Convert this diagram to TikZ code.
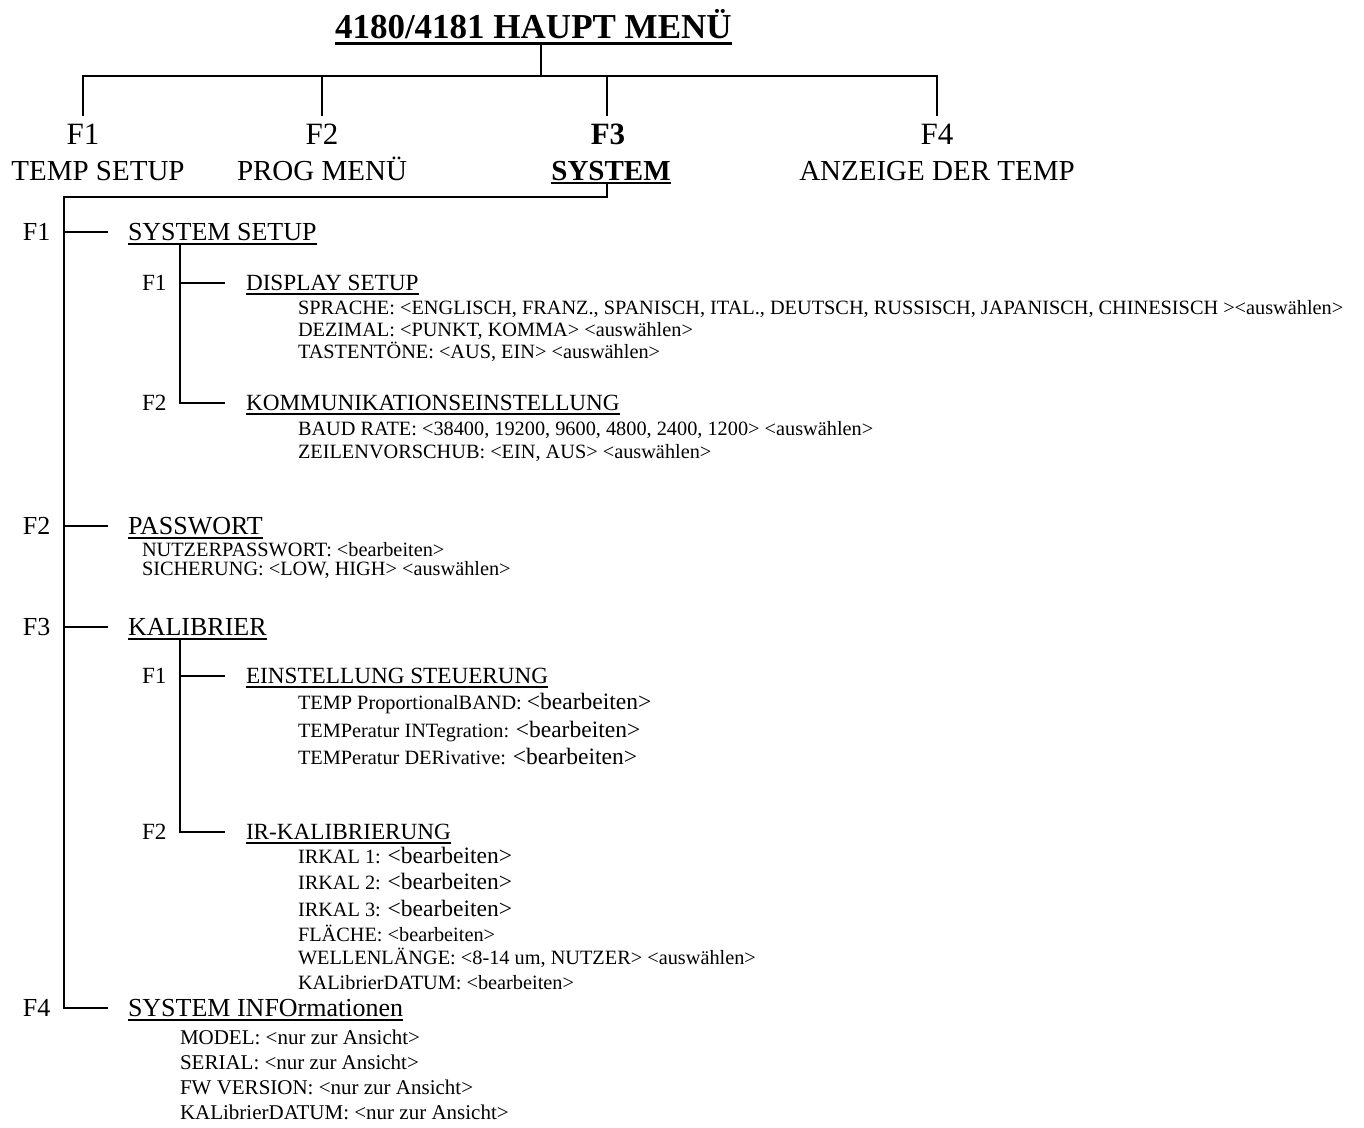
\documentclass[tikz,border=0pt]{standalone}
\usepackage{fontspec}
\setmainfont{Liberation Serif}
\newcommand\setfs[1]{\fontsize{#1pt}{#1pt}\selectfont}
\newcommand\bigbearb{{\setfs{23.5}<bearbeiten>}}
\newcommand\ulnode[2][3]{\draw[ul] ([yshift=-#1pt]#2.base west) -- ([yshift=-#1pt]#2.base east);}
\begin{document}
\begin{tikzpicture}[x=1pt,y=-1pt,
  conn/.style={line width=2pt},
  ul/.style={line width=2pt},
  txt/.style={inner sep=0pt,outer sep=0pt,anchor=base west},
  ctxt/.style={inner sep=0pt,outer sep=0pt,anchor=base},
  topf/.style={ctxt,font=\setfs{31}},
  topname/.style={ctxt,font=\setfs{29}},
  lonef/.style={txt,font=\setfs{26}},
  ltwof/.style={txt,font=\setfs{23.2}},
  det/.style={txt,font=\setfs{20.3}},
  info/.style={txt,font=\setfs{21}}]
\useasboundingbox (0,0) rectangle (1364,1127);

% ---- title
\node[txt,font=\setfs{35}\bfseries] (title) at (335,38) {4180/4181 HAUPT MENÜ};
\draw[line width=3pt] ([yshift=-5pt]title.base west) -- ([yshift=-5pt]title.base east);
\coordinate (ttop) at (541,44.5);
\coordinate (bus) at (541,76);
\coordinate (dropy) at (0,116);

% ---- top row
\node[topf] (tf1) at (83,144) {F1};
\node[topf] (tf2) at (322,144) {F2};
\node[topf,font=\setfs{31}\bfseries] (tf3) at (608,144) {F3};
\node[topf] (tf4) at (937,144) {F4};
\node[topname] (tn1) at (98,180) {TEMP SETUP};
\node[topname] (tn2) at (322,180) {PROG MENÜ};
\node[topname,font=\setfs{29}\bfseries] (tn3) at (611,180) {SYSTEM};
\node[topname] (tn4) at (937,180) {ANZEIGE DER TEMP};
\ulnode{tn3}

\draw[conn] (ttop) -- (bus);
\draw[conn] (tf1.base |- dropy) -- (tf1.base |- bus) -- (tf4.base |- bus) -- (tf4.base |- dropy);
\draw[conn] (tf2.base |- dropy) -- (tf2.base |- bus);
\coordinate (f3drop) at (607,116);
\draw[conn] (f3drop) -- (f3drop |- bus);

% ---- level 1
\coordinate (sdrop) at (607,184);
\coordinate (trunk) at (64,197);
\coordinate (c1) at (108,232);
\coordinate (c2) at (108,526);
\coordinate (c3) at (108,627);
\coordinate (c4) at (108,1008);

\node[lonef] (a1) at (23,240.6) {F1};
\node[lonef] (h1) at (128,240.6) {SYSTEM SETUP};
\node[lonef] (a2) at (23,534.6) {F2};
\node[lonef] (h2) at (128,534.6) {PASSWORT};
\node[lonef] (a3) at (23,635.6) {F3};
\node[lonef] (h3) at (128,635.6) {KALIBRIER};
\node[lonef] (a4) at (23,1016.6) {F4};
\node[lonef] (h4) at (128,1016.6) {SYSTEM INFOrmationen};
\ulnode{h1}\ulnode{h2}\ulnode{h3}\ulnode{h4}

\draw[conn] (sdrop) |- (trunk) -- (trunk |- c4) -- (c4);
\draw[conn] (trunk |- c1) -- (c1);
\draw[conn] (trunk |- c2) -- (c2);
\draw[conn] (trunk |- c3) -- (c3);

% ---- level 2 under SYSTEM SETUP
\coordinate (v1) at (180,243);
\coordinate (e1) at (225,283);
\coordinate (e2) at (225,403);
\node[ltwof] (b1) at (142,290.6) {F1};
\node[ltwof] (k1) at (246,290.6) {DISPLAY SETUP};
\node[ltwof] (b2) at (142,410.6) {F2};
\node[ltwof] (k2) at (246,410.6) {KOMMUNIKATIONSEINSTELLUNG};
\ulnode{k1}\ulnode{k2}
\draw[conn] (v1) -- (v1 |- e2) -- (e2);
\draw[conn] (v1 |- e1) -- (e1);

\node[det] (d1) at (298,314.6) {SPRACHE: <ENGLISCH, FRANZ., SPANISCH, ITAL., DEUTSCH, RUSSISCH, JAPANISCH, CHINESISCH ><auswählen>};
\node[det] (d2) at (298,336.6) {DEZIMAL: <PUNKT, KOMMA> <auswählen>};
\node[det] (d3) at (298,358.6) {TASTENTÖNE: <AUS, EIN> <auswählen>};
\node[det] (d4) at (298,435.6) {BAUD RATE: <38400, 19200, 9600, 4800, 2400, 1200> <auswählen>};
\node[det] (d5) at (298,458.6) {ZEILENVORSCHUB: <EIN, AUS> <auswählen>};

% ---- PASSWORT details
\node[det] (p1) at (142,556.6) {NUTZERPASSWORT: <bearbeiten>};
\node[det] (p2) at (142,575.6) {SICHERUNG: <LOW, HIGH> <auswählen>};

% ---- level 2 under KALIBRIER
\coordinate (v2) at (180,638);
\coordinate (e3) at (225,676);
\coordinate (e4) at (225,832);
\node[ltwof] (b3) at (142,683.6) {F1};
\node[ltwof] (k3) at (246,683.6) {EINSTELLUNG STEUERUNG};
\node[ltwof] (b4) at (142,839.6) {F2};
\node[ltwof] (k4) at (246,839.6) {IR-KALIBRIERUNG};
\ulnode{k3}\ulnode{k4}
\draw[conn] (v2) -- (v2 |- e4) -- (e4);
\draw[conn] (v2 |- e3) -- (e3);

\node[det] (g1) at (298,709.6) {TEMP ProportionalBAND: \bigbearb};
\node[det] (g2) at (298,737.6) {TEMPeratur INTegration: \bigbearb};
\node[det] (g3) at (298,764.6) {TEMPeratur DERivative: \bigbearb};

\node[det] (i1) at (298,863.6) {IRKAL 1: \bigbearb};
\node[det] (i2) at (298,889.6) {IRKAL 2: \bigbearb};
\node[det] (i3) at (298,916.6) {IRKAL 3: \bigbearb};
\node[det] (i4) at (298,941.6) {FLÄCHE: <bearbeiten>};
\node[det] (i5) at (298,964.6) {WELLENLÄNGE: <8-14 um, NUTZER> <auswählen>};
\node[det] (i6) at (298,989.6) {KALibrierDATUM: <bearbeiten>};

% ---- SYSTEM INFO details
\node[info] (s1) at (180,1044) {MODEL: <nur zur Ansicht>};
\node[info] (s2) at (180,1069) {SERIAL: <nur zur Ansicht>};
\node[info] (s3) at (180,1094) {FW VERSION: <nur zur Ansicht>};
\node[info] (s4) at (180,1119) {KALibrierDATUM: <nur zur Ansicht>};
\end{tikzpicture}
\end{document}
